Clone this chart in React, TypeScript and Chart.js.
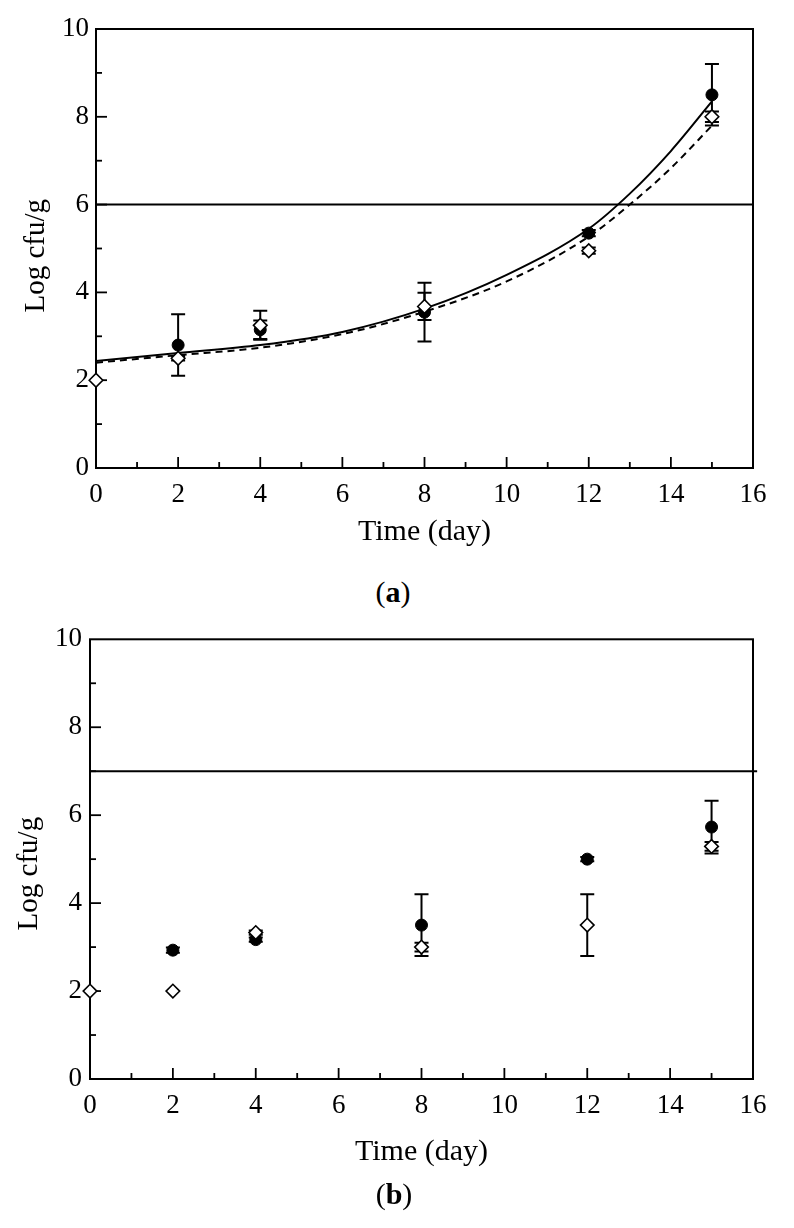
import React, { useEffect, useRef } from 'react';
import { Chart, registerables } from 'chart.js';

Chart.register(...registerables);

// ---------- shared tick labels ----------
const xTickLabels = ['0', '2', '4', '6', '8', '10', '12', '14', '16'];
const yTickLabels = ['0', '2', '4', '6', '8', '10'];
const xTitle = 'Time (day)';
const yTitle = 'Log cfu/g';

// ---------- panel (a) ----------
const aCircleDays = [2, 4, 8, 12, 15];
const aCircle = [2.8, 3.15, 3.55, 5.35, 8.5];
const aCircleErr = [0.7, 0.21, 0.67, 0.07, 0.7];
const aDiamondDays = [0, 2, 4, 8, 12, 15];
const aDiamond = [2.0, 2.5, 3.25, 3.68, 4.95, 8.0];
const aDiamondErr = [0, 0.05, 0.33, 0.31, 0.07, 0.12];
const aFitDays = [0, 2, 4, 6, 8, 10, 12, 13, 14, 15];
const aFitSolid = [2.44, 2.62, 2.8, 3.1, 3.63, 4.4, 5.45, 6.25, 7.22, 8.35];
const aFitDashed = [2.4, 2.57, 2.74, 3.05, 3.56, 4.25, 5.27, 6.0, 6.83, 7.8];
const aLimitDays = [0, 16];
const aLimit = [6, 6];

// ---------- panel (b) ----------
const bCircleDays = [2, 4, 8, 12, 15];
const bCircle = [2.93, 3.17, 3.5, 5.0, 5.73];
const bCircleErr = [0.06, 0.05, 0.7, 0.05, 0.6];
const bDiamondDays = [0, 2, 4, 8, 12, 15];
const bDiamond = [2.0, 2.0, 3.33, 3.0, 3.5, 5.29];
const bDiamondErr = [0, 0, 0.05, 0.1, 0.7, 0.1];
const bLimitDays = [0, 16.1];
const bLimit = [7, 7];

const FONT = '"Liberation Serif", "Times New Roman", serif';

const pts = (xs: number[], ys: number[]) => xs.map((x, i) => ({ x, y: ys[i] }));

const frameTicksPlugin = {
  id: 'frameTicks',
  beforeDatasetsDraw(chart: any, _args: any, opts: any) {
    const { ctx, chartArea: a, scales } = chart;
    const xs = scales.x;
    const ys = scales.y;
    ctx.save();
    ctx.strokeStyle = '#000';
    ctx.lineWidth = 2;
    ctx.strokeRect(a.left, a.top, a.right - a.left, a.bottom - a.top);
    ctx.lineWidth = 1.8;
    xs.ticks.forEach((t: any) => {
      const v = t.value;
      if (v <= xs.min || v >= xs.max) return;
      const px = xs.getPixelForValue(v);
      const len = v % 2 === 0 ? opts.major : opts.minor;
      ctx.beginPath();
      ctx.moveTo(px, a.bottom);
      ctx.lineTo(px, a.bottom - len);
      ctx.stroke();
    });
    ys.ticks.forEach((t: any) => {
      const v = t.value;
      if (v <= ys.min || v >= ys.max) return;
      const py = ys.getPixelForValue(v);
      const len = v % 2 === 0 ? opts.major : opts.minor;
      ctx.beginPath();
      ctx.moveTo(a.left, py);
      ctx.lineTo(a.left + len, py);
      ctx.stroke();
    });
    // error bars
    ctx.lineWidth = 2;
    chart.data.datasets.forEach((ds: any, i: number) => {
      if (!ds.errors || !chart.isDatasetVisible(i)) return;
      ds.data.forEach((p: any, j: number) => {
        const e = ds.errors[j];
        if (!e) return;
        const px = xs.getPixelForValue(p.x);
        const y1 = ys.getPixelForValue(p.y + e);
        const y2 = ys.getPixelForValue(p.y - e);
        ctx.beginPath();
        ctx.moveTo(px, y1);
        ctx.lineTo(px, y2);
        ctx.moveTo(px - opts.cap, y1);
        ctx.lineTo(px + opts.cap, y1);
        ctx.moveTo(px - opts.cap, y2);
        ctx.lineTo(px + opts.cap, y2);
        ctx.stroke();
      });
    });
    ctx.restore();
  },
};

type PanelProps = {
  top: number;
  height: number;
  area: { left: number; top: number; right: number; bottom: number };
  tickFont: number;
  xTitleFont: number;
  yTitleFont: number;
  yTitleText: string;
  xTickPad: number;
  yTickPad: number;
  xTitlePad: number;
  yTitlePad: number;
  datasets: any[];
};

function Panel(p: PanelProps) {
  const ref = useRef<HTMLCanvasElement | null>(null);
  useEffect(() => {
    if (!ref.current) return;
    const chart = new Chart(ref.current, {
      type: 'scatter',
      data: { datasets: p.datasets },
      options: {
        responsive: false,
        animation: false,
        devicePixelRatio: 1,
        layout: {
          autoPadding: false,
          padding: { left: 0, top: p.area.top, right: 794 - p.area.right, bottom: 0 },
        },
        plugins: {
          legend: { display: false },
          tooltip: { enabled: false },
          frameTicks: { major: 11, minor: 6, cap: 7 },
        } as any,
        scales: {
          x: {
            type: 'linear',
            min: 0,
            max: 16,
            position: 'bottom',
            grid: { display: false, drawTicks: false },
            border: { display: false },
            afterFit: (s: any) => {
              s.height = p.height - p.area.bottom;
            },
            ticks: {
              stepSize: 1,
              autoSkip: false,
              maxRotation: 0,
              padding: p.xTickPad,
              color: '#000',
              font: { family: FONT, size: p.tickFont },
              callback: (v: any) => (Number(v) % 2 === 0 ? xTickLabels[Number(v) / 2] : ''),
            },
            title: {
              display: true,
              text: xTitle,
              color: '#000',
              font: { family: FONT, size: p.xTitleFont, lineHeight: 1 },
              padding: { top: 0, bottom: p.xTitlePad },
            },
          },
          y: {
            type: 'linear',
            min: 0,
            max: 10,
            position: 'left',
            grid: { display: false, drawTicks: false },
            border: { display: false },
            afterFit: (s: any) => {
              s.width = p.area.left;
            },
            ticks: {
              stepSize: 1,
              autoSkip: false,
              padding: p.yTickPad,
              color: '#000',
              font: { family: FONT, size: p.tickFont },
              callback: (v: any) => (Number(v) % 2 === 0 ? yTickLabels[Number(v) / 2] : ''),
            },
            title: {
              display: true,
              text: p.yTitleText,
              color: '#000',
              font: { family: FONT, size: p.yTitleFont, lineHeight: 1 },
              padding: { top: p.yTitlePad, bottom: 0 },
            },
          },
        },
      },
      plugins: [frameTicksPlugin],
    } as any);
    return () => chart.destroy();
  }, []);
  return (
    <canvas
      ref={ref}
      width={794}
      height={p.height}
      style={{ position: 'absolute', left: 0, top: p.top, width: 794, height: p.height }}
    />
  );
}

const diamondDs = (xs: number[], ys: number[], errs: number[]) => ({
  data: pts(xs, ys),
  errors: errs,
  showLine: false,
  pointStyle: 'rectRot',
  pointRadius: 6.8,
  pointBackgroundColor: '#fff',
  pointBorderColor: '#000',
  pointBorderWidth: 1.6,
  clip: false,
});

const circleDs = (xs: number[], ys: number[], errs: number[]) => ({
  data: pts(xs, ys),
  errors: errs,
  showLine: false,
  pointStyle: 'circle',
  pointRadius: 6,
  pointBackgroundColor: '#000',
  pointBorderColor: '#000',
  pointBorderWidth: 1,
  clip: false,
});

const lineDs = (xs: number[], ys: number[], dash: number[], clip: any = undefined) => ({
  data: pts(xs, ys),
  showLine: true,
  pointRadius: 0,
  borderColor: '#000',
  borderWidth: 2,
  borderDash: dash,
  cubicInterpolationMode: 'monotone',
  fill: false,
  ...(clip !== undefined ? { clip } : {}),
});

export default function App() {
  const labelStyle = (top: number, centerX: number): React.CSSProperties => ({
    position: 'absolute',
    left: centerX - 397,
    width: 794,
    top,
    textAlign: 'center',
    fontFamily: FONT,
    fontSize: 30,
    lineHeight: 1,
    color: '#000',
  });
  return (
    <div style={{ position: 'absolute', left: 0, top: 0, width: 794, height: 1228, background: '#fff' }}>
      <Panel
        top={0}
        height={560}
        area={{ left: 96, top: 29, right: 753, bottom: 468 }}
        tickFont={27}
        xTitleFont={30}
        yTitleFont={29}
        yTitleText={yTitle + '\u00A0\u00A0'}
        xTickPad={11}
        yTickPad={7}
        xTitlePad={13}
        yTitlePad={21.5}
        datasets={[
          diamondDs(aDiamondDays, aDiamond, aDiamondErr),
          circleDs(aCircleDays, aCircle, aCircleErr),
          lineDs(aFitDays, aFitSolid, []),
          lineDs(aFitDays, aFitDashed, [7, 5]),
          lineDs(aLimitDays, aLimit, []),
        ]}
      />
      <div style={labelStyle(577, 393)}>
        (<b>a</b>)
      </div>
      <Panel
        top={610}
        height={580}
        area={{ left: 90, top: 29.3, right: 753, bottom: 469 }}
        tickFont={27}
        xTitleFont={30}
        yTitleFont={29}
        yTitleText={yTitle + '\u00A0\u00A0\u00A0\u00A0'}
        xTickPad={11}
        yTickPad={8}
        xTitlePad={23}
        yTitlePad={14.5}
        datasets={[
          diamondDs(bDiamondDays, bDiamond, bDiamondErr),
          circleDs(bCircleDays, bCircle, bCircleErr),
          lineDs(bLimitDays, bLimit, [], false),
        ]}
      />
      <div style={labelStyle(1179, 394)}>
        (<b>b</b>)
      </div>
    </div>
  );
}
